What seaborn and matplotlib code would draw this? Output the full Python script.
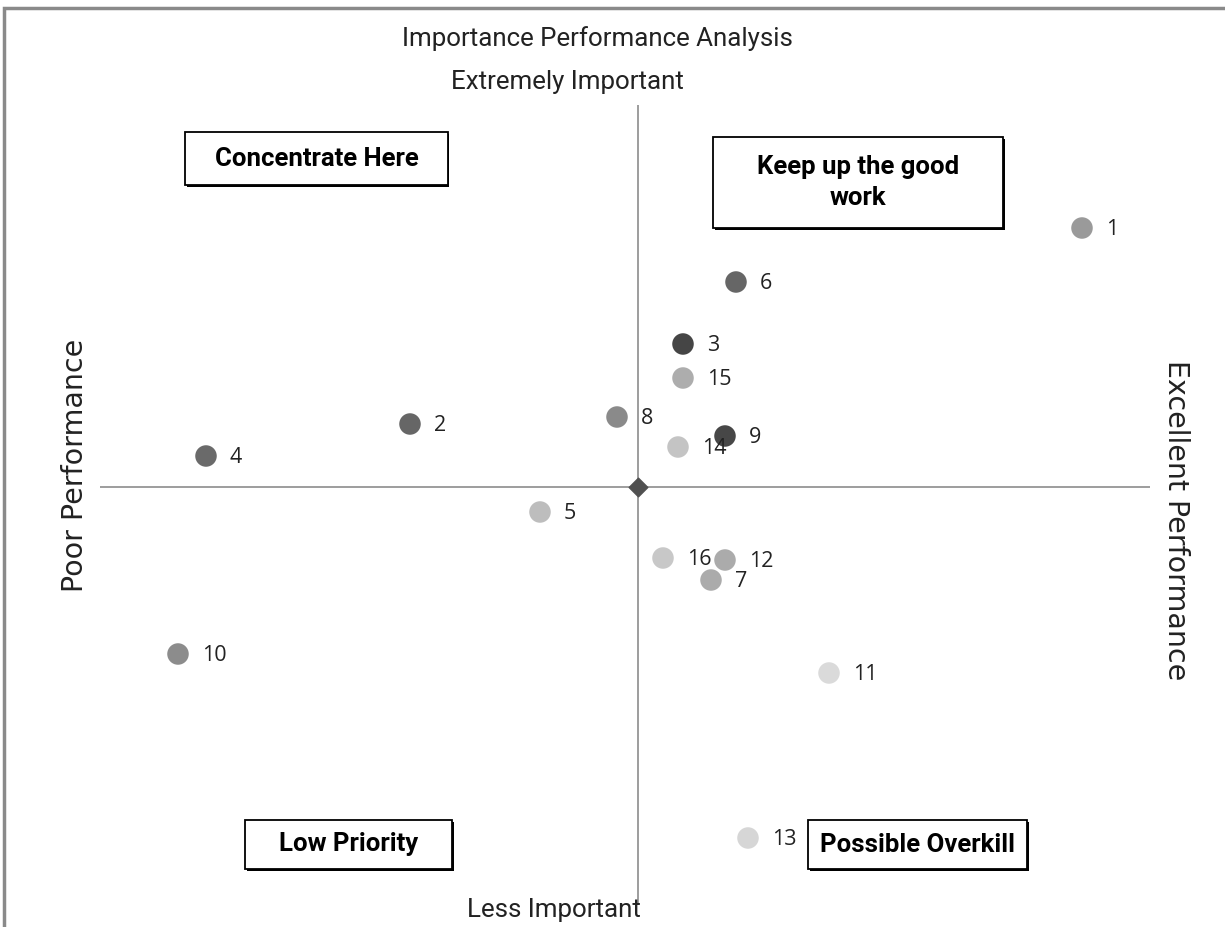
import matplotlib
matplotlib.use("Agg")
import matplotlib.pyplot as plt
import seaborn as sns
import pandas as pd
from matplotlib.patches import Rectangle

# ---- data ----
ids = [str(i) for i in range(1, 17)]
performance = [4.44, -2.28, 0.45, -4.32, -0.98, 0.98, 0.73, -0.21, 0.87, -4.60, 1.91, 0.87, 1.10, 0.40, 0.45, 0.25]
importance = [2.59, 0.63, 1.43, 0.31, -0.25, 2.05, -0.93, 0.70, 0.51, -1.67, -1.86, -0.73, -3.51, 0.40, 1.09, -0.71]
shades = ["#9a9a9a", "#666666", "#454545", "#6a6a6a", "#bdbdbd", "#666666", "#ababab", "#8a8a8a",
          "#474747", "#8c8c8c", "#dadada", "#ababab", "#d6d6d6", "#c4c4c4", "#adadad", "#c8c8c8"]
quadrant_labels = ["Concentrate Here", "Keep up the good\nwork", "Low Priority", "Possible Overkill"]

df = pd.DataFrame({"id": ids, "performance": performance, "importance": importance})

sns.set_theme(style="white")
plt.rcParams["font.family"] = ["Open Sans", "DejaVu Sans"]

W, H = 1225, 927
fig = plt.figure(figsize=(W / 100, H / 100), dpi=100)
ax = fig.add_axes([100 / W, (H - 905) / H, 1050 / W, 800 / H])
ax.set_xlim(-5.38, 5.12)
ax.set_ylim(-4.18, 3.82)
ax.axis("off")

ax.axhline(0, color="#8c8c8c", lw=1.2, zorder=1)
ax.axvline(0, color="#8c8c8c", lw=1.2, zorder=1)
ax.scatter([0], [0], marker="D", s=90, color="#505050", zorder=3)

sns.scatterplot(data=df, x="performance", y="importance", hue="id", palette=shades,
                s=240, edgecolor="none", legend=False, ax=ax, zorder=4)

for i, x, y in zip(ids, performance, importance):
    ax.annotate(i, (x, y), xytext=(17, -1), textcoords="offset points",
                ha="left", va="center", fontsize=15.5, color="#222222",
                family=["Open Sans", "DejaVu Sans"], zorder=5)

narrow = ["Roboto", "DejaVu Sans"]

# titles and axis captions
fig.text(597 / W, 1 - 39 / H, "Importance Performance Analysis", ha="center", va="center",
         fontsize=18.6, family=narrow, color="#222222")
fig.text(567 / W, 1 - 82 / H, "Extremely Important", ha="center", va="center",
         fontsize=18.6, family=narrow, color="#222222")
fig.text(554 / W, 1 - 910 / H, "Less Important", ha="center", va="center",
         fontsize=18.6, family=narrow, color="#222222")
fig.text(75 / W, 1 - 465 / H, "Poor Performance", ha="center", va="center", rotation=90,
         fontsize=20.5, family=["DejaVu Sans"], color="#222222")
fig.text(1176 / W, 1 - 520 / H, "Excellent Performance", ha="center", va="center", rotation=-90,
         fontsize=20.5, family=["DejaVu Sans"], color="#222222")

# quadrant boxes (pixel boxes: x0, y0, x1, y1)
boxes = [(185, 132, 448, 185), (713, 137, 1003, 228), (245, 820, 452, 869), (808, 820, 1027, 869)]
for (x0, y0, x1, y1), lab in zip(boxes, quadrant_labels):
    # shadow
    fig.patches.append(Rectangle((x0 / W + 1.5 / W, 1 - y1 / H - 1.5 / H), (x1 - x0) / W, (y1 - y0) / H,
                                 transform=fig.transFigure, facecolor="#000000", edgecolor="none", zorder=5))
    fig.patches.append(Rectangle((x0 / W, 1 - y1 / H), (x1 - x0) / W, (y1 - y0) / H,
                                 transform=fig.transFigure, facecolor="white", edgecolor="black",
                                 lw=1.3, zorder=6))
    fig.text((x0 + x1) / 2 / W, 1 - (y0 + y1) / 2 / H, lab, ha="center", va="center",
             fontsize=18.5, fontweight="bold", family=narrow, color="black", zorder=7,
             linespacing=1.4)

# outer frame (top and left visible)
fig.patches.append(Rectangle((4 / W, -0.05), 1.1, 1 - 8 / H + 0.05, transform=fig.transFigure,
                             facecolor="none", edgecolor="#8a8a8a", lw=2.5, zorder=0, clip_on=False))

fig.savefig("out.png", dpi=100)
